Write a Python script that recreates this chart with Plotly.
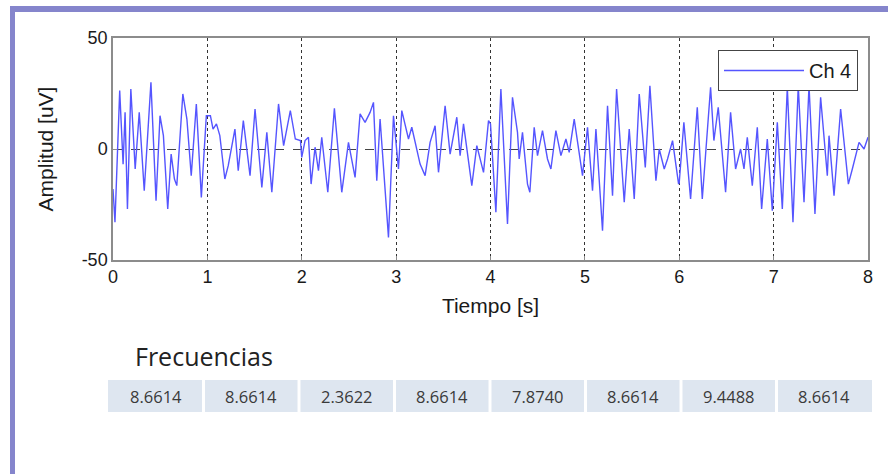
import plotly.graph_objects as go

# ---- data ----
TIME_S = [
    0.000, 0.021, 0.071, 0.107, 0.128, 0.153, 0.189, 0.235, 0.278, 0.331, 0.402, 0.456, 0.498, 0.534,
    0.580, 0.616, 0.651, 0.676, 0.740, 0.783, 0.829, 0.883, 0.936, 0.989, 1.032, 1.060, 1.096, 1.132,
    1.185, 1.221, 1.292, 1.327, 1.381, 1.452, 1.505, 1.577, 1.630, 1.683, 1.754, 1.808, 1.879, 1.932,
    1.986,
    2.000, 2.035, 2.071, 2.099, 2.141, 2.177, 2.212, 2.276, 2.346, 2.424, 2.495, 2.565, 2.618, 2.671,
    2.724, 2.760, 2.795, 2.830, 2.919, 2.972, 3.025, 3.060, 3.131, 3.166, 3.254, 3.307, 3.360, 3.413,
    3.449, 3.519, 3.572, 3.643, 3.678, 3.714, 3.802, 3.855, 3.926, 3.979,
    4.000, 4.057, 4.110, 4.180, 4.233, 4.286, 4.304, 4.339, 4.392, 4.417, 4.463, 4.498, 4.551, 4.604,
    4.640, 4.693, 4.746, 4.799, 4.834, 4.887, 4.940, 4.975, 5.028, 5.081, 5.117, 5.187, 5.240, 5.293,
    5.336, 5.417, 5.470, 5.523, 5.576, 5.640, 5.689, 5.753, 5.788, 5.841, 5.876, 5.929, 5.993,
    6.000, 6.049, 6.120, 6.191, 6.244, 6.332, 6.367, 6.413, 6.491, 6.544, 6.597, 6.650, 6.686, 6.721,
    6.774, 6.827, 6.873, 6.933, 6.986, 7.039, 7.092, 7.145, 7.205, 7.261, 7.322, 7.375, 7.438, 7.498,
    7.569, 7.587, 7.640, 7.710, 7.792, 7.834, 7.905, 7.958, 8.000,
]
AMPLITUD_UV = [
    -18.0, -33.0, 26.3, -6.8, 16.5, -27.0, 27.0, -9.0, 16.5, -18.8, 30.0, -23.3, 15.0, 6.0,
    -27.0, -2.3, -13.5, -16.5, 24.8, 13.5, -12.0, 20.3, -21.8, 15.0, 15.0, 9.0, 11.3, 6.0,
    -13.5, -7.5, 9.0, -9.8, 12.8, -12.0, 18.0, -17.3, 7.5, -19.5, 20.3, 1.5, 17.3, 4.5,
    3.8,
    -3.8, 3.8, 5.3, -15.8, 0.8, -9.8, 5.3, -19.5, 18.3, -19.5, 3.0, -12.8, 15.8, 12.0,
    16.5, 21.0, -14.3, 13.5, -39.8, 15.0, -9.0, 17.3, 4.5, 9.8, -6.8, -12.0, 3.0, 10.5,
    -10.5, 19.5, -2.3, 14.3, -3.0, 11.3, -16.5, 1.5, -10.5, 12.8,
    11.3, -28.5, 27.0, -33.8, 23.3, 7.5, -4.5, 7.5, -15.8, -19.5, 9.8, -3.0, 8.3, -4.5,
    -9.0, 8.3, -3.0, 4.5, -1.5, 13.5, -0.8, -12.0, 9.8, -18.8, 9.0, -36.8, 19.5, -21.0,
    27.0, -24.0, 9.0, -22.5, 24.8, -8.3, 28.5, -14.3, 0.0, -9.0, -4.5, 3.8, -15.8,
    -15.0, 12.0, -22.5, 18.8, -22.5, 27.8, 3.8, 18.8, -19.5, 16.5, -9.0, 0.0, -9.0, 5.3,
    -16.5, 9.8, -27.0, 4.5, -27.8, 12.0, -27.0, 27.8, -33.0, 28.5, -24.0, 28.5, -29.3, 23.3,
    -12.0, 6.0, -21.0, 18.0, -15.8, -9.0, 3.0, 0.0, 5.3,
]
X_TICKS = [0, 1, 2, 3, 4, 5, 6, 7, 8]
Y_TICKS = [-50, 0, 50]
FRECUENCIAS = ["8.6614", "8.6614", "2.3622", "8.6614", "7.8740", "8.6614", "9.4488", "8.6614"]

# ---- layout helpers (pixel -> paper) ----
W, H = 888, 474
L, R, T, B = 113, 20, 38, 214
PW, PH = W - L - R, H - T - B


def px(x):
    return (x - L) / PW


def py(y):
    return (H - B - y) / PH


FAM = "Liberation Sans, Arial, sans-serif"
TICK_FONT = dict(family=FAM, size=18, color="#1a1a1a")
TITLE_FONT = dict(family=FAM, size=21, color="#1a1a1a")

fig = go.Figure()
fig.add_trace(go.Scatter(
    x=TIME_S, y=AMPLITUD_UV, mode="lines", name="Ch 4",
    line=dict(color="rgb(85,85,255)", width=1.4),
    showlegend=True,
))

fig.update_layout(
    width=W, height=H,
    margin=dict(l=L, r=R, t=T, b=B),
    paper_bgcolor="white", plot_bgcolor="white",
    font=TICK_FONT,
    showlegend=True,
    legend=dict(
        x=px(858), y=py(50), xanchor="right", yanchor="top",
        bgcolor="white", bordercolor="#444444", borderwidth=1,
        font=dict(family=FAM, size=20, color="#1a1a1a"),
        itemwidth=80,
    ),
    xaxis=dict(
        range=[0, 8], tickvals=X_TICKS, ticktext=[str(v) for v in X_TICKS],
        showgrid=True, griddash="dot", gridcolor="#333333", gridwidth=1,
        showline=True, mirror=True, linecolor="#8c8c8c", linewidth=1.5,
        ticks="inside", ticklen=4, tickcolor="#8c8c8c",
        zeroline=False, tickfont=TICK_FONT,
        title=dict(text="Tiempo [s]", font=TITLE_FONT, standoff=12),
    ),
    yaxis=dict(
        range=[-50, 50], tickvals=Y_TICKS, ticktext=[str(v) for v in Y_TICKS],
        showgrid=True, griddash="dash", gridcolor="#444444", gridwidth=1,
        showline=True, mirror=True, linecolor="#8c8c8c", linewidth=1.5,
        ticks="inside", ticklen=4, tickcolor="#8c8c8c",
        zeroline=False, tickfont=TICK_FONT,
        title=dict(text="Amplitud [uV]", font=TITLE_FONT, standoff=22),
    ),
)

shapes = []
BORDER = "#8585cc"
# purple frame (left and top)
shapes.append(dict(type="rect", xref="paper", yref="paper", x0=px(10), x1=px(15), y0=py(474), y1=py(6),
                   fillcolor=BORDER, line=dict(width=0), layer="above"))
shapes.append(dict(type="rect", xref="paper", yref="paper", x0=px(10), x1=px(888), y0=py(12), y1=py(6),
                   fillcolor=BORDER, line=dict(width=0), layer="above"))

annotations = []
annotations.append(dict(text="Frecuencias", xref="paper", yref="paper", x=px(133), y=py(356),
                        xanchor="left", yanchor="middle", showarrow=False,
                        font=dict(family="Open Sans, Noto Sans, sans-serif", size=25, color="#222222")))

TBL_X0, TBL_X1, TBL_Y0, TBL_Y1 = 108, 872, 380, 412
cw = (TBL_X1 - TBL_X0) / len(FRECUENCIAS)
for i, val in enumerate(FRECUENCIAS):
    x0 = TBL_X0 + i * cw
    shapes.append(dict(type="rect", xref="paper", yref="paper",
                       x0=px(x0 + (1.5 if i else 0)), x1=px(x0 + cw - (1.5 if i < len(FRECUENCIAS) - 1 else 0)),
                       y0=py(TBL_Y1), y1=py(TBL_Y0),
                       fillcolor="#dee6f0", line=dict(width=0), layer="below"))
    annotations.append(dict(text=val, xref="paper", yref="paper", x=px(x0 + cw / 2), y=py((TBL_Y0 + TBL_Y1) / 2),
                            xanchor="center", yanchor="middle", showarrow=False,
                            font=dict(family="Open Sans, Noto Sans, sans-serif", size=16.5, color="#3a3a3a")))

fig.update_layout(shapes=shapes, annotations=annotations)
fig.write_html("out.html",
               config={"displayModeBar": False},
               post_script="document.body.style.margin='0px';document.body.style.overflow='hidden';")
